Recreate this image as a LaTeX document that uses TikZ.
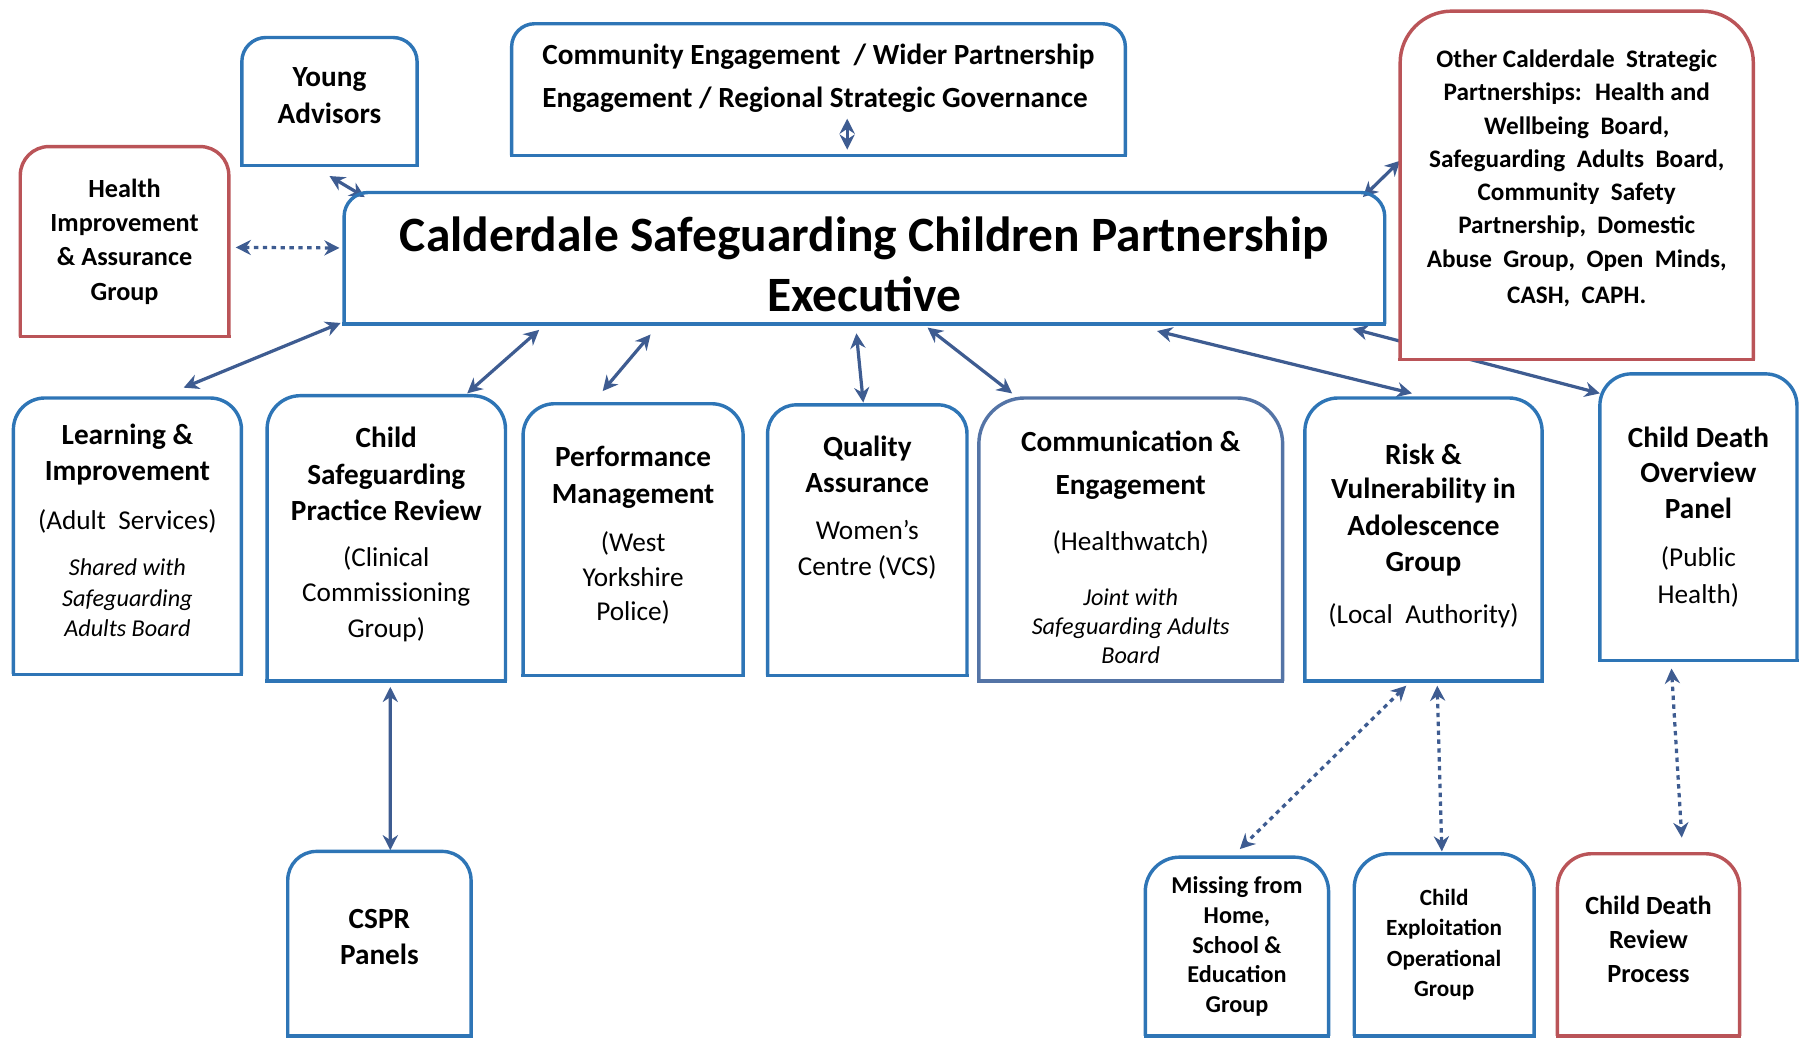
\documentclass[tikz,border=0pt]{standalone}
\usepackage{fontspec}
\setmainfont{Carlito}
\usepackage{tikz}
\usepackage{xcolor}
\usetikzlibrary{arrows.meta,positioning,backgrounds}

\definecolor{boxblue}{RGB}{46,117,182}
\definecolor{boxred}{RGB}{186,84,88}
\definecolor{greyblue}{RGB}{84,116,166}
\definecolor{linkblue}{RGB}{62,92,145}

% host organisation and shared-board notes
\newcommand{\orgname}[1]{{\mdseries\fontsize{13.5}{18}\selectfont #1}}
\newcommand{\jointnote}[1]{{\mdseries\itshape\fontsize{12}{15}\selectfont #1}}

\tikzset{
  unit/.style={align=center, inner sep=0pt, font=\fontsize{14.5}{18}\selectfont\bfseries},
  link/.style={<->, linkblue, line width=1.6pt},
  dotlink/.style={link, dash pattern=on 2.2pt off 2.2pt},
}

\begin{document}
\begin{tikzpicture}[>={Stealth[length=7.5pt,width=7.5pt]}, x=0.02cm, y=-0.02cm]
      \useasboundingbox (0,0) rectangle (1568,904);

      % Top row
      \node[unit, minimum width=3.04cm, minimum height=2.22cm] (young) at (287,88.5) {Young\\Advisors\\[-12pt]\mbox{}};
      \node[unit, align=left, minimum width=10.68cm, minimum height=2.28cm,
            font=\fontsize{14.5}{21.6}\selectfont\bfseries] (wider) at (713,78)
            {Community Engagement \ / Wider Partnership\\Engagement / Regional Strategic Governance\\[-8pt]\mbox{}};
      \node[unit, minimum width=3.62cm, minimum height=3.30cm,
            font=\fontsize{13}{17}\selectfont\bfseries] (hia) at (108.5,210.5)
            {Health\\Improvement\\\& Assurance\\Group};
      \node[unit, minimum width=18.12cm, minimum height=2.28cm,
            font=\fontsize{24.5}{29.6}\selectfont\bfseries] (exec) at (753,225)
            {\mbox{}\\[-6.4pt]Calderdale Safeguarding Children Partnership\\Executive};
      \node[unit, fill=white, minimum width=6.14cm, minimum height=6.06cm,
            font=\fontsize{12.5}{16.5}\selectfont\bfseries] (other) at (1373.5,161.5)
            {Other Calderdale \ Strategic\\Partnerships: \ Health and\\Wellbeing \ Board,\\Safeguarding \ Adults \ Board,\\Community \ Safety\\Partnership, \ Domestic\\Abuse \ Group, \ Open \ Minds,\\[1.7pt]CASH, \ CAPH.\\[-8pt]\mbox{}};

      % Sub-groups
      \node[unit, minimum width=3.96cm, minimum height=4.8cm] (learn) at (111,467)
            {Learning \&\\Improvement\\[6pt]\orgname{(Adult \ Services)}\\[5pt]\jointnote{Shared with}\\[-2.6pt]\jointnote{Safeguarding}\\[-3.2pt]\jointnote{Adults Board}\\[-12.3pt]\mbox{}};
      \node[unit, minimum width=4.14cm, minimum height=4.96cm] (cspr) at (336.5,469)
            {Child\\Safeguarding\\Practice Review\\[4.8pt]\orgname{(Clinical}\\[-0.9pt]\orgname{Commissioning}\\\orgname{Group)}\\[-12pt]\mbox{}};
      \node[unit, minimum width=3.82cm, minimum height=4.72cm] (perf) at (551.5,470)
            {Performance\\Management\\[6pt]\orgname{(West}\\[-0.9pt]\orgname{Yorkshire}\\[-0.9pt]\orgname{Police)}\\[-12pt]\mbox{}};
      \node[unit, minimum width=3.46cm, minimum height=4.70cm] (qa) at (755.5,470.5)
            {Quality\\Assurance\\[5.3pt]\orgname{Women's}\\\orgname{Centre (VCS)}\\[16pt]\mbox{}};
      \node[unit, minimum width=5.28cm, minimum height=4.92cm] (commeng) at (985,470)
            {\mbox{}\\Communication \&\\[3pt]Engagement\\[10pt]\orgname{(Healthwatch)}\\[9pt]\jointnote{Joint with}\\[-3.2pt]\jointnote{Safeguarding Adults}\\[-3.8pt]\jointnote{Board}};
      \node[unit, minimum width=4.12cm, minimum height=4.92cm] (risk) at (1240,470)
            {Risk \&\\[-0.9pt]Vulnerability in\\Adolescence\\Group\\[7.6pt]\orgname{(Local \ Authority)}\\[-12pt]\mbox{}};
      \node[unit, minimum width=3.42cm, minimum height=4.98cm] (cdop) at (1479.5,450.5)
            {Child Death\\[-0.9pt]Overview\\Panel\\[6pt]\orgname{(Public}\\\orgname{Health)}};

      % Bottom row
      \node[unit, minimum width=3.18cm, minimum height=3.2cm] (panels) at (330.5,822) {CSPR\\Panels\\[-11pt]\mbox{}};
      \node[unit, minimum width=3.18cm, minimum height=3.1cm,
            font=\fontsize{12}{14.8}\selectfont\bfseries] (missing) at (1077.5,824.5)
            {Missing from\\Home,\\School \&\\Education\\Group};
      \node[unit, minimum width=3.12cm, minimum height=3.16cm,
            font=\fontsize{11.5}{15}\selectfont\bfseries] (ceog) at (1258,823)
            {Child\\Exploitation\\Operational\\Group};
      \node[unit, minimum width=3.16cm, minimum height=3.16cm,
            font=\fontsize{13}{16.8}\selectfont\bfseries] (cdrp) at (1436,823)
            {Child Death\\Review\\Process\\[-11pt]\mbox{}};

      % Box outlines, rounded on top only
      \foreach \n/\col/\rad in {young/boxblue/0.42cm, wider/boxblue/0.4cm, hia/boxred/0.5cm,
          exec/boxblue/0.42cm, other/boxred/0.9cm, learn/boxblue/0.55cm, cspr/boxblue/0.58cm,
          perf/boxblue/0.55cm, qa/boxblue/0.5cm, commeng/greyblue/0.8cm, risk/boxblue/0.58cm,
          cdop/boxblue/0.55cm, panels/boxblue/0.5cm, missing/boxblue/0.6cm, ceog/boxblue/0.6cm,
          cdrp/boxred/0.6cm}
      {
        \draw[\col, line width=1.7pt, rounded corners=\rad]
          (\n.south west) -- (\n.north west) -- (\n.north east) -- (\n.south east);
        \draw[\col, line width=1.7pt, line cap=rect] (\n.south west) -- (\n.south east);
      }

      % Connectors
      \begin{scope}[on background layer]
        \draw[link] ([yshift=-0.18cm]young.south) -- ([xshift=0.36cm,yshift=-0.08cm]exec.north west);
        \draw[dotlink] ([xshift=0.12cm,yshift=-0.1cm]hia.east) -- ([xshift=-0.08cm,yshift=0.18cm]exec.west);
        \draw[link] ([xshift=0.5cm,yshift=0.64cm]wider.south) -- ([xshift=0.5cm,yshift=0.1cm]wider.south);
        \draw[link] ([yshift=0.43cm]other.west) -- ([xshift=-0.38cm,yshift=-0.08cm]exec.north east);
        \draw[link] ([xshift=-0.06cm,yshift=0.02cm]exec.south west) -- ([xshift=0.98cm,yshift=0.18cm]learn.north);
        \draw[link] ([xshift=3.4cm,yshift=-0.1cm]exec.south west) -- ([xshift=1.41cm,yshift=0.04cm]cspr.north);
        \draw[link] ([xshift=5.34cm,yshift=-0.18cm]exec.south west) -- ([xshift=-0.53cm,yshift=0.22cm]perf.north);
        \draw[link] ([xshift=-0.14cm,yshift=-0.16cm]exec.south) -- ([xshift=-0.07cm,yshift=0.04cm]qa.north);
        \draw[link] ([xshift=1.1cm,yshift=-0.06cm]exec.south) -- ([xshift=0.58cm,yshift=0.08cm]commeng.north west);
        \draw[link] ([xshift=5.1cm,yshift=-0.12cm]exec.south) -- ([xshift=-0.2cm,yshift=0.08cm]risk.north);
        \draw[link] ([xshift=-0.56cm,yshift=-0.08cm]exec.south east) -- ([yshift=-0.34cm]cdop.north west);
        \draw[link] ([xshift=0.07cm,yshift=-0.1cm]cspr.south) -- ([xshift=0.19cm,yshift=0.02cm]panels.north);
        \draw[dotlink] ([xshift=-0.3cm,yshift=-0.08cm]risk.south) -- ([xshift=0.05cm,yshift=0.14cm]missing.north);
        \draw[dotlink] ([xshift=0.24cm,yshift=-0.08cm]risk.south) -- ([xshift=-0.04cm,yshift=0.04cm]ceog.north);
        \draw[dotlink] ([xshift=-0.47cm,yshift=-0.14cm]cdop.south) -- ([xshift=0.58cm,yshift=0.28cm]cdrp.north);
      \end{scope}
\end{tikzpicture}
\end{document}
